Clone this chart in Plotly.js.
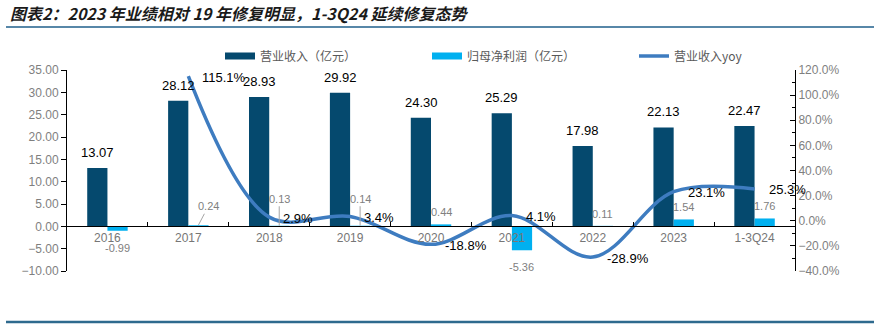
<!DOCTYPE html>
<html>
<head>
<meta charset="utf-8">
<script src="https://cdn.plot.ly/plotly-3.0.1.min.js"></script>
<style>html,body{margin:0;padding:0;background:#fff;}#chart{width:892px;height:326px;}</style>
</head>
<body>
<div id="chart"></div>
<script>
const categories = ['2016','2017','2018','2019','2020','2021','2022','2023','1-3Q24'];
const revenue = [13.07, 28.12, 28.93, 29.92, 24.30, 25.29, 17.98, 22.13, 22.47];
const netProfit = [-0.99, 0.24, 0.13, 0.14, 0.44, -5.36, 0.11, 1.54, 1.76];
const yoyCategories = ['2017','2018','2019','2020','2021','2022','2023','1-3Q24'];
const revenueYoy = [115.1, 2.9, 3.4, -18.8, 4.1, -28.9, 23.1, 25.3];
const seriesNames = ['营业收入（亿元）', '归母净利润（亿元）', '营业收入yoy'];
const titleText = '图表2：2023 年业绩相对 19 年修复明显，1-3Q24 延续修复态势';

const C_REV = '#05496E', C_NP = '#00B0F0', C_YOY = '#3E7CC0';
const FONT = 'Liberation Sans, Arial, Noto Sans CJK SC, sans-serif';
const CJK = 'Noto Sans CJK SC, Liberation Sans, sans-serif';

const traces = [
  {type:'bar', x:categories, y:revenue, name:seriesNames[0], marker:{color:C_REV}, showlegend:false, legendgroup:'a', hoverinfo:'skip'},
  {type:'bar', x:categories, y:netProfit, name:seriesNames[1], marker:{color:C_NP}, showlegend:false, legendgroup:'b', hoverinfo:'skip'},
  {type:'scatter', mode:'lines', x:yoyCategories, y:revenueYoy, yaxis:'y2', name:seriesNames[2], line:{color:C_YOY, width:3.5, shape:'spline', smoothing:1}, showlegend:false, legendgroup:'c'},
  {type:'scatter', mode:'lines', x:[categories[0]], y:[null], name:seriesNames[0], line:{color:C_REV, width:7}, legendgroup:'a'},
  {type:'scatter', mode:'lines', x:[categories[0]], y:[null], name:seriesNames[1], line:{color:C_NP, width:7}, legendgroup:'b'},
  {type:'scatter', mode:'lines', x:[categories[0]], y:[null], yaxis:'y2', name:seriesNames[2], line:{color:C_YOY, width:3.5}, legendgroup:'c'}
];

const catIndex = c => categories.indexOf(c);
const annotations = [];
categories.forEach((c,i)=>{
  annotations.push({x:catIndex(c), y:revenue[i], xref:'x', yref:'y', xshift:-10, yanchor:'bottom', yshift:6,
    text:revenue[i].toFixed(2), showarrow:false, font:{family:FONT, size:13, color:'#000'}});
});
const leader = {'2017':[10,-19], '2018':[0,-27], '2019':[0,-27]};
categories.forEach((c,i)=>{
  const v = netProfit[i];
  const base = {x:catIndex(c), y:v, xref:'x', yref:'y', xshift:10, text:v.toFixed(2), font:{family:FONT, size:11, color:'#808080'}};
  if (leader[c]) {
    annotations.push(Object.assign(base, {showarrow:true, arrowhead:0, arrowwidth:1, arrowcolor:'#a6a6a6', ax:leader[c][0], ay:leader[c][1], standoff:0}));
  } else if (v < 0) {
    annotations.push(Object.assign(base, {showarrow:false, yanchor:'top', yshift:-9}));
  } else {
    annotations.push(Object.assign(base, {showarrow:false, yanchor:'bottom', yshift:4}));
  }
});
yoyCategories.forEach((c,i)=>{
  annotations.push({x:catIndex(c), y:revenueYoy[i], xref:'x', yref:'y2', xanchor:'left', xshift:12, yshift:-1,
    text:revenueYoy[i].toFixed(1)+'%', showarrow:false, font:{family:FONT, size:13, color:'#000'}});
});

const yMin = -10, yMax = 35;
const layout = {
  width:892, height:326,
  margin:{l:67, r:97, t:70, b:55},
  paper_bgcolor:'#fff', plot_bgcolor:'#fff',
  font:{family:FONT, size:12, color:'#7f7f7f'},
  title:{text:titleText, x:10/892, xref:'container', xanchor:'left', y:1-14/326, yref:'container', yanchor:'middle',
    font:{family:CJK, size:16, color:'#1a1a1a', weight:'bold', style:'italic'}},
  barmode:'group', bargap:0.5, bargroupgap:0,
  showlegend:true,
  legend:{orientation:'h', x:(220-67)/728, xanchor:'left', y:1+14/201, yanchor:'middle', entrywidth:162, entrywidthmode:'pixels',
    font:{family:CJK, size:12, color:'#595959'}, itemwidth:30, bgcolor:'rgba(0,0,0,0)'},
  xaxis:{type:'category', categoryorder:'array', categoryarray:categories, range:[-0.5, categories.length-0.5], autorange:false,
    anchor:'free', position:(0-yMin)/(yMax-yMin),
    showline:true, linecolor:'#000', linewidth:1, ticks:'inside', ticklen:4, tickcolor:'#000', tickson:'boundaries',
    showgrid:false, zeroline:false, tickangle:0, tickfont:{family:FONT, size:12, color:'#767676'}},
  yaxis:{range:[yMin,yMax], dtick:5, tickformat:'.2f', showline:true, linecolor:'#000', linewidth:1, ticks:'outside', ticklen:5, tickcolor:'#000',
    showgrid:false, zeroline:false, tickfont:{family:FONT, size:12, color:'#7f7f7f'}},
  yaxis2:{overlaying:'y', side:'right', range:[-40,120], dtick:20, tickformat:'.1f', ticksuffix:'%', showline:true, linecolor:'#000', linewidth:1,
    ticks:'inside', ticklen:5, tickcolor:'#000', minor:{dtick:10, ticks:'inside', ticklen:3, tickcolor:'#000'},
    showgrid:false, zeroline:false, tickfont:{family:FONT, size:12, color:'#7f7f7f'}},
  annotations:annotations,
  shapes:[
    {type:'line', xref:'paper', yref:'paper', x0:(6-67)/728, x1:(874-67)/728, y0:1+43/201, y1:1+43/201, line:{color:'#1F5F8B', width:1.5}},
    {type:'line', xref:'paper', yref:'paper', x0:(6-67)/728, x1:(874-67)/728, y0:-51/201, y1:-51/201, line:{color:'#2E6A8E', width:2.5}}
  ]
};
Plotly.newPlot('chart', traces, layout, {displayModeBar:false, staticPlot:true});
</script>
</body>
</html>
